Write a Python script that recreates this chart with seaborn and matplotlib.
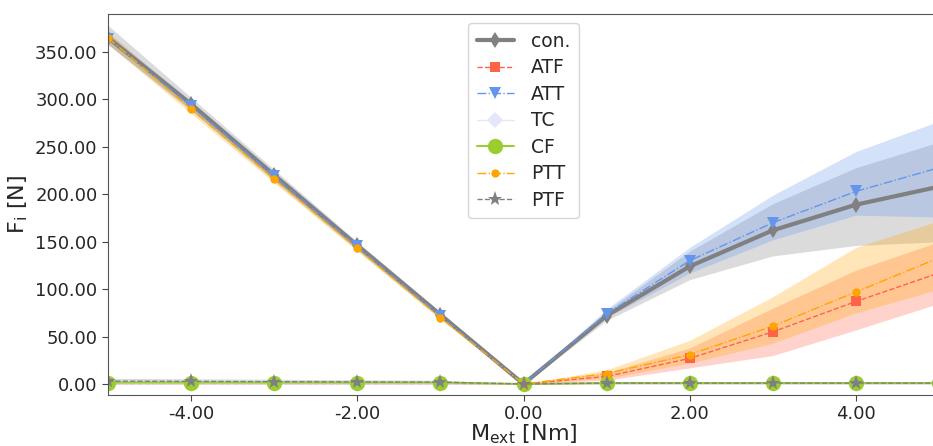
import matplotlib

matplotlib.use("Agg")
import matplotlib.pyplot as plt
import numpy as np
import pandas as pd
import seaborn as sns

# External moment steps [Nm]
m_ext = [-5, -4, -3, -2, -1, 0, 1, 2, 3, 4, 5]

# Mean force per element [N] and the shaded band (lower / upper)
con = [365, 295, 220, 146, 73, 0, 72, 124, 162, 189, 208]
con_lo = [358, 289, 215, 142, 70, 0, 67, 110, 135, 146, 150]
con_hi = [378, 302, 226, 150, 76, 0, 77, 140, 190, 228, 255]

atf = [0.5, 0.5, 0.5, 0.5, 0.5, 0, 8, 27, 55, 87, 117]
atf_lo = [0, 0, 0, 0, 0, 0, 4, 17, 30, 57, 85]
atf_hi = [1, 1, 1, 1, 1, 0, 12, 38, 80, 120, 150]

att = [364, 293, 219, 145, 72, 0, 74, 130, 170, 203, 228]
att_lo = [358, 288, 214, 141, 69, 0, 70, 117, 152, 178, 176]
att_hi = [370, 298, 224, 149, 75, 0, 79, 144, 199, 245, 277]

tc = [0.3, 0.3, 0.3, 0.3, 0.3, 0, 0.3, 0.3, 0.3, 0.3, 0.3]
tc_lo = [0, 0, 0, 0, 0, 0, 0, 0, 0, 0, 0]
tc_hi = [0.6, 0.6, 0.6, 0.6, 0.6, 0, 0.6, 0.6, 0.6, 0.6, 0.6]

cf = [1.5, 1.5, 1.5, 1.5, 1.5, 0, 1, 1, 1, 1, 1]
cf_lo = [0.5, 0.5, 0.5, 0.5, 0.5, 0, 0.5, 0.5, 0.5, 0.5, 0.5]
cf_hi = [2.5, 2.5, 2.5, 2.5, 2.5, 0, 1.5, 1.5, 1.5, 1.5, 1.5]

ptt = [365, 290, 216, 143, 70, 0, 11, 31, 61, 97, 133]
ptt_lo = [358, 285, 212, 140, 68, 0, 6, 22, 43, 75, 100]
ptt_hi = [371, 295, 220, 146, 72, 0, 15, 46, 92, 144, 172]

ptf = [3, 2.8, 2.5, 2.2, 2, 0, 1, 1, 1, 1, 1]
ptf_lo = [0, 0, 0, 0, 0, 0, 0, 0, 0, 0, 0]
ptf_hi = [6, 5.5, 5, 4.5, 4, 0, 2, 2, 2, 2, 2]

series = [
    ("con.", con, con_lo, con_hi, "gray", "-", "d", 8, 3.0),
    ("ATF", atf, atf_lo, atf_hi, "tomato", "--", "s", 7, 1.0),
    ("ATT", att, att_lo, att_hi, "cornflowerblue", "-.", "v", 8, 1.0),
    ("TC", tc, tc_lo, tc_hi, "lavender", "-", "D", 8, 1.0),
    ("CF", cf, cf_lo, cf_hi, "yellowgreen", "-", "o", 11, 1.5),
    ("PTT", ptt, ptt_lo, ptt_hi, "orange", "-.", "o", 6, 1.0),
    ("PTF", ptf, ptf_lo, ptf_hi, "gray", "--", "*", 11, 1.0),
]

sns.set_style("ticks")
plt.rcParams["font.family"] = ["DejaVu Sans"]

fig = plt.figure(figsize=(9.33, 4.46), dpi=100)
ax = fig.add_axes([0.1158, 0.1143, 0.8906, 0.8543])

for name, mean, lo, hi, color, ls, marker, ms, lw in series:
    df = pd.DataFrame({"m": m_ext, "f": mean})
    ax.fill_between(m_ext, lo, hi, color=color, alpha=0.28, linewidth=0)
    sns.lineplot(
        data=df, x="m", y="f", ax=ax, color=color, linestyle=ls, marker=marker,
        markersize=ms, linewidth=lw, markeredgewidth=0, label=name,
    )

ax.set_xlim(-5, 5)
ax.set_ylim(-11.6, 390)
ax.set_xticks([-4, -2, 0, 2, 4])
ax.set_yticks(np.arange(0, 351, 50))
ax.xaxis.set_major_formatter(matplotlib.ticker.FormatStrFormatter("%.2f"))
ax.yaxis.set_major_formatter(matplotlib.ticker.FormatStrFormatter("%.2f"))
ax.tick_params(labelsize=13, color="#444444", length=4)
for sp in ax.spines.values():
    sp.set_color("#555555")
    sp.set_visible(True)

ax.set_xlabel(r"M$_{\rm ext}$ [Nm]", fontsize=16, labelpad=-1)
ax.set_ylabel(r"F$_{\rm i}$ [N]", fontsize=16, labelpad=4)
ax.legend(loc="upper center", bbox_to_anchor=(0.5, 1.0), fontsize=13.5,
          frameon=True, handlelength=2.0, borderpad=0.45, labelspacing=0.4,
          handletextpad=0.9)

fig.savefig("out.png", dpi=100)
